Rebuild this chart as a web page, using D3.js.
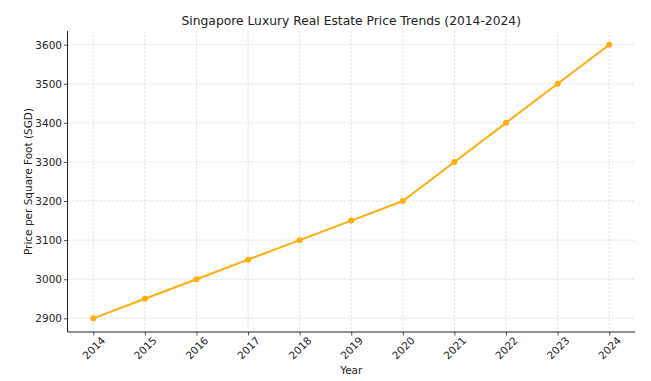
<!DOCTYPE html>
<html><head><meta charset="utf-8">
<script src="https://d3js.org/d3.v7.min.js"></script>
<style>body{margin:0;background:#fff}svg{display:block}text{font-family:"DejaVu Sans",sans-serif}</style>
</head><body><svg id="c" width="651" height="381"></svg>
<script>
const years = [2014,2015,2016,2017,2018,2019,2020,2021,2022,2023,2024];
const prices = [2900,2950,3000,3050,3100,3150,3200,3300,3400,3500,3600];
const yTicks = [2900,3000,3100,3200,3300,3400,3500,3600];
const title = "Singapore Luxury Real Estate Price Trends (2014-2024)";

const svg = d3.select("#c");
const L=67.5,R=635,T=31,B=332;
const x = d3.scaleLinear().domain([2013.5,2024.5]).range([L,R]);
const y = d3.scaleLinear().domain([2865,3635]).range([B,T]);
const col = "#FFAD0F";

const g = svg.append("g");
g.selectAll(".gx").data(years).join("line")
 .attr("x1",d=>x(d)).attr("x2",d=>x(d)).attr("y1",T).attr("y2",B)
 .attr("stroke","#cccccc").attr("stroke-width",0.6).attr("stroke-dasharray","2.5,1.5");
g.selectAll(".gy").data(yTicks).join("line")
 .attr("x1",L).attr("x2",R).attr("y1",d=>y(d)).attr("y2",d=>y(d))
 .attr("stroke","#cccccc").attr("stroke-width",0.6).attr("stroke-dasharray","2.5,1.5");

const xa = svg.append("g").attr("transform",`translate(0,${B})`)
 .call(d3.axisBottom(x).tickValues(years).tickFormat(d3.format("d")).tickSize(3.5).tickSizeOuter(0));
xa.select(".domain").remove();
xa.selectAll("text").attr("font-size",10.5).attr("fill","#222")
 .attr("text-anchor","middle").attr("x",0).attr("y",0).attr("dy","0.35em")
 .attr("transform","translate(0,16) rotate(-45)");
const ya = svg.append("g").attr("transform",`translate(${L},0)`)
 .call(d3.axisLeft(y).tickValues(yTicks).tickFormat(d3.format("d")).tickSize(3.5).tickPadding(2).tickSizeOuter(0));
ya.select(".domain").remove();
ya.selectAll("text").attr("font-size",10.5).attr("fill","#222");
svg.selectAll(".tick line").attr("stroke","#222").attr("stroke-width",0.8);

svg.append("line").attr("x1",L).attr("x2",L).attr("y1",T).attr("y2",B).attr("stroke","#222").attr("stroke-width",1);
svg.append("line").attr("x1",L).attr("x2",R).attr("y1",B).attr("y2",B).attr("stroke","#222").attr("stroke-width",1);

const data = years.map((d,i)=>({x:d,y:prices[i]}));
svg.append("path").datum(data)
 .attr("d",d3.line().x(d=>x(d.x)).y(d=>y(d.y)))
 .attr("fill","none").attr("stroke",col).attr("stroke-width",2);
svg.selectAll(".pt").data(data).join("circle")
 .attr("cx",d=>x(d.x)).attr("cy",d=>y(d.y)).attr("r",3).attr("fill",col);

svg.append("text").attr("x",(L+R)/2).attr("y",25).attr("text-anchor","middle")
 .attr("font-size",12.3).attr("fill","#222").text(title);
svg.append("text").attr("x",(L+R)/2).attr("y",374).attr("text-anchor","middle")
 .attr("font-size",10.5).attr("fill","#222").text("Year");
svg.append("text").attr("transform",`translate(32,${(T+B)/2}) rotate(-90)`).attr("text-anchor","middle")
 .attr("font-size",10.5).attr("fill","#222").text("Price per Square Foot (SGD)");
</script></body></html>
